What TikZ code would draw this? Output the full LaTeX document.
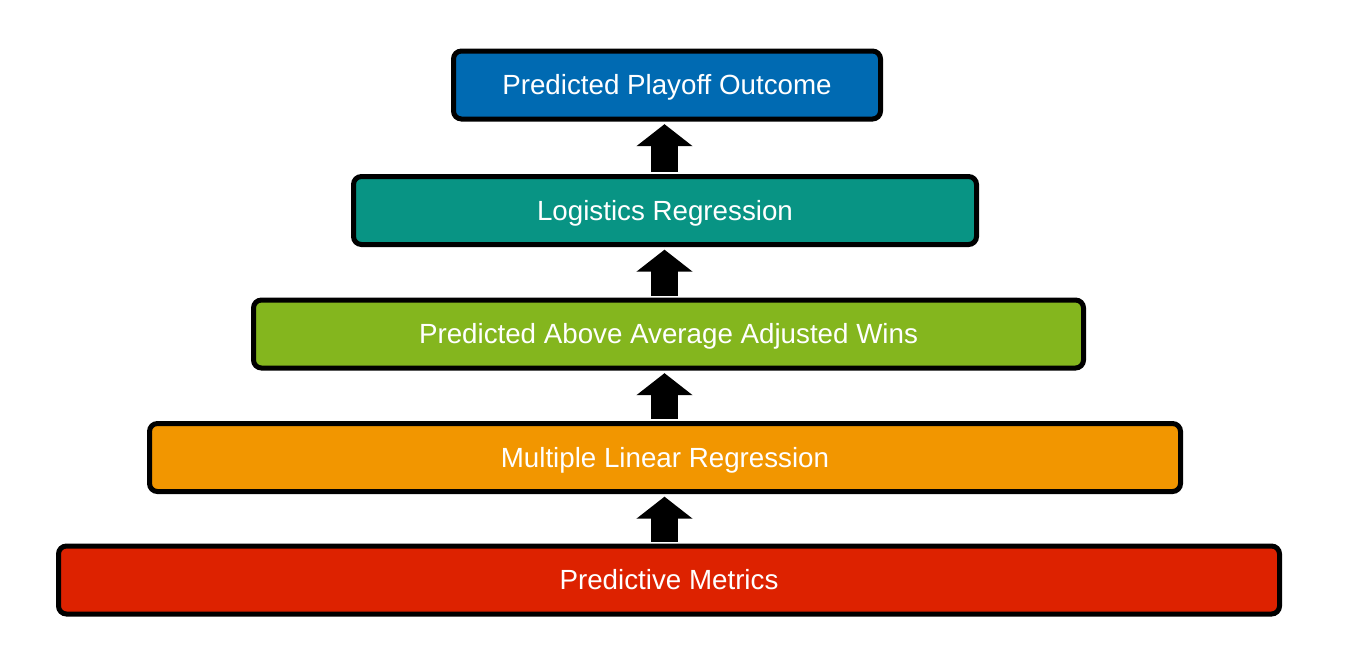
\documentclass[tikz,border=0pt]{standalone}
\usepackage{fontspec}
\setmainfont{Liberation Sans}
\usetikzlibrary{arrows.meta}
\definecolor{cblue}{RGB}{0,106,178}
\definecolor{cteal}{RGB}{8,148,132}
\definecolor{cgreen}{RGB}{132,182,30}
\definecolor{corange}{RGB}{242,150,0}
\definecolor{cred}{RGB}{221,34,0}
\begin{document}
\begin{tikzpicture}[x=0.75pt,y=-0.75pt,
  tier/.style={draw=black, line width=3.75pt, rounded corners=6pt,
    minimum height=51pt, inner sep=0pt, text=white,
    font=\fontsize{20.8}{24}\selectfont, text height=14.9pt, text depth=0pt},
  uparrow/.style={line width=20.25pt, -{Triangle[width=41.25pt,length=16.5pt]},
    shorten <=1.5pt, shorten >=2pt}]
\useasboundingbox (0,0) rectangle (1351,664);
\node[tier, fill=cblue, minimum width=320.25pt] (top) at (667,85) {Predicted Playoff Outcome};
\node[tier, fill=cteal, minimum width=467.25pt] (logit) at (665,210.5) {Logistics Regression};
\node[tier, fill=cgreen, minimum width=622.5pt] (wins) at (668.5,334) {Predicted Above Average Adjusted Wins};
\node[tier, fill=corange, minimum width=773.25pt] (mlr) at (665,457.5) {Multiple Linear Regression};
\node[tier, fill=cred, minimum width=915.75pt] (metrics) at (669,580) {Predictive Metrics};
\coordinate (ax) at (664.5,0);
\draw[uparrow] (logit.north -| ax) -- (top.south -| ax);
\draw[uparrow] (wins.north -| ax) -- (logit.south -| ax);
\draw[uparrow] (mlr.north -| ax) -- (wins.south -| ax);
\draw[uparrow] (metrics.north -| ax) -- (mlr.south -| ax);
\end{tikzpicture}
\end{document}
